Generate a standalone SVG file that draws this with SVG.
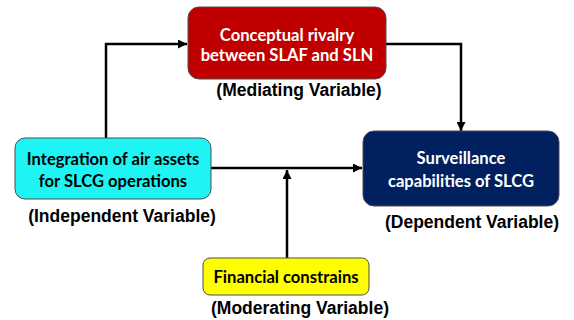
<svg xmlns="http://www.w3.org/2000/svg" width="574" height="320" viewBox="0 0 574 320">
<defs>
<marker id="ah" viewBox="0 0 10 10" refX="10" refY="5" markerWidth="3.6" markerHeight="3.6" orient="auto" markerUnits="strokeWidth">
<path d="M0,0 L10,5 L0,10 Z" fill="#000"/>
</marker>
<style>
.box{stroke:#4d4d4d;stroke-width:1}
.bt{font-family:Lato,"Open Sans",sans-serif;font-weight:bold;font-size:16.6px;text-anchor:middle}
.lb{font-family:"Liberation Sans",Arial,sans-serif;font-weight:bold;font-size:17.5px;text-anchor:middle;fill:#000}
.cn{fill:none;stroke:#000;stroke-width:2.5}
</style>
</defs>
<rect width="574" height="320" fill="#fff"/>
<g id="connectors">
<path class="cn" d="M106,138 V44 H187" marker-end="url(#ah)"/>
<path class="cn" d="M386,44 H461 V131" marker-end="url(#ah)"/>
<path class="cn" d="M211,168 H362" marker-end="url(#ah)"/>
<path class="cn" d="M287,258 V170" marker-end="url(#ah)"/>
</g>
<g id="mediating">
<rect class="box" x="188" y="7" width="198" height="72" rx="11" fill="#C00000"/>
<text class="bt" fill="#fff" x="287" y="41">Conceptual rivalry</text>
<text class="bt" fill="#fff" x="287" y="61">between SLAF and SLN</text>
<text class="lb" x="299" y="96">(Mediating Variable)</text>
</g>
<g id="independent">
<rect class="box" x="15" y="138" width="196" height="61" rx="10" fill="#1EF4F4"/>
<text class="bt" fill="#000" x="113" y="165">Integration of air assets</text>
<text class="bt" fill="#000" x="113" y="187">for SLCG operations</text>
<text class="lb" x="122" y="222">(Independent Variable)</text>
</g>
<g id="dependent">
<rect class="box" x="363" y="131" width="196" height="75" rx="11" fill="#002060"/>
<text class="bt" fill="#fff" x="461" y="164">Surveillance</text>
<text class="bt" fill="#fff" x="461" y="187">capabilities of SLCG</text>
<text class="lb" x="472" y="228">(Dependent Variable)</text>
</g>
<g id="moderating">
<rect class="box" x="203" y="258" width="166" height="37" rx="7" fill="#FFFF00"/>
<text class="bt" fill="#000" x="286" y="283">Financial constrains</text>
<text class="lb" x="300" y="314">(Moderating Variable)</text>
</g>
</svg>
